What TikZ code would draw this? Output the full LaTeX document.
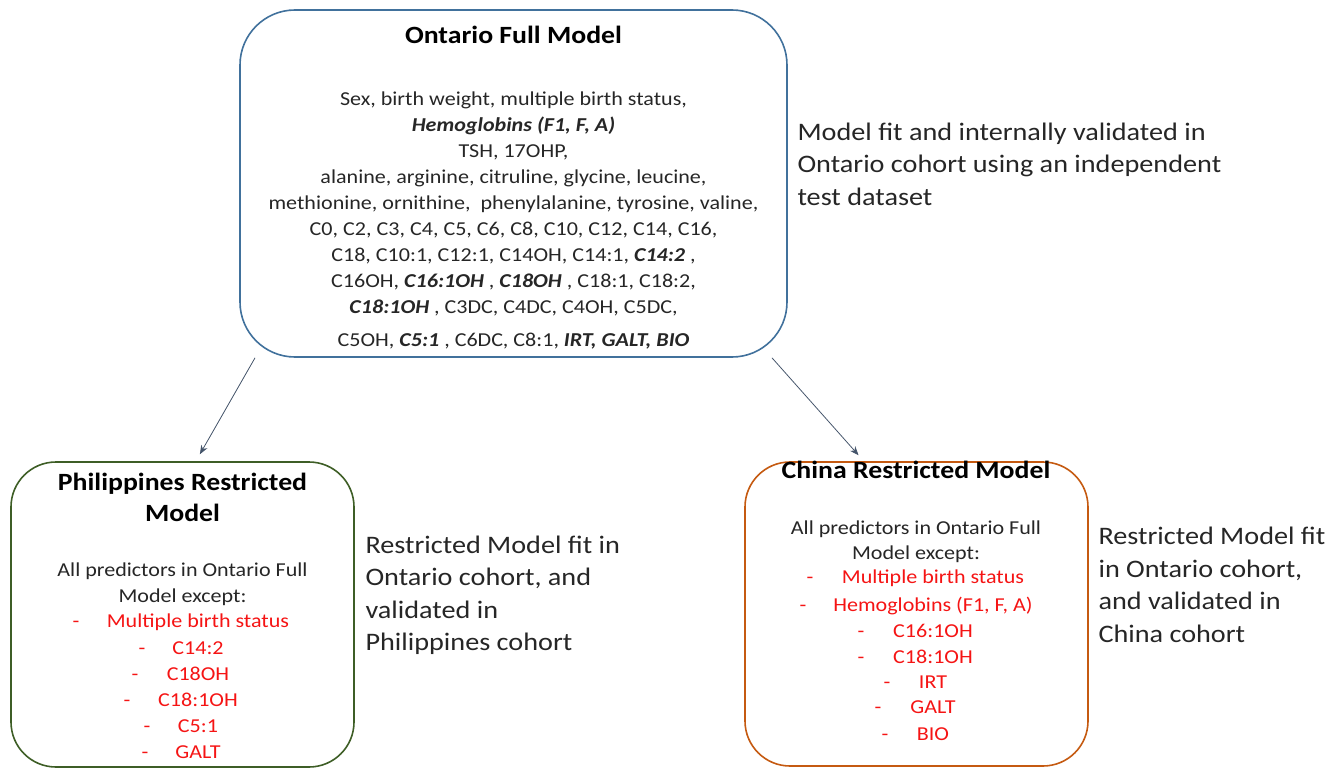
\documentclass[tikz,border=0pt]{standalone}
\usepackage{fontspec}
\setmainfont[FakeStretch=1.12]{Carlito}
\usetikzlibrary{positioning,arrows.meta}

\definecolor{fullblue}{RGB}{65,113,156}
\definecolor{phgreen}{RGB}{62,94,38}
\definecolor{cnorange}{RGB}{197,90,17}
\definecolor{droppedred}{RGB}{245,20,20}
\definecolor{linkgray}{RGB}{68,84,106}
\newcommand{\keyvar}[1]{\textbf{\textit{#1}}}

\begin{document}
\begin{tikzpicture}[x=1pt,y=-1pt,
    model/.style={draw,rounded corners=55pt,line width=1.6pt,inner sep=0pt},
    title/.style={font=\fontsize{24.8}{31}\selectfont\bfseries,align=center},
    body/.style={font=\fontsize{19.7}{26}\selectfont,align=center,text=black!85},
    drop/.style={font=\fontsize{19.7}{26}\selectfont,text=droppedred,text height=2.1ex,text depth=0ex},
    note/.style={font=\fontsize{25.2}{32.5}\selectfont,align=left,anchor=west,text=black!85},
    link/.style={-{Stealth[length=9pt,width=7pt]},linkgray,line width=0.8pt,shorten >=8pt}]
    \useasboundingbox (0,0) rectangle (1339,770);

    % Ontario
    \node[model, fullblue, minimum width=547pt, minimum height=347pt] (full) at (513.5,183.5) {};
    \node[title] (full_title) at (513.5,35) {Ontario Full Model};
    \node[body, below=79pt of full.north] (full_body) {Sex, birth weight, multiple birth status,\\
        \keyvar{Hemoglobins (F1, F, A)}\\
        TSH, 17OHP,\\
        alanine, arginine, citruline, glycine, leucine,\\
        methionine, ornithine,\ \ phenylalanine, tyrosine, valine,\\
        C0, C2, C3, C4, C5, C6, C8, C10, C12, C14, C16,\\
        C18, C10:1, C12:1, C14OH, C14:1, \keyvar{C14:2} ,\\
        C16OH, \keyvar{C16:1OH} , \keyvar{C18OH} , C18:1, C18:2,\\
        \keyvar{C18:1OH} , C3DC, C4DC, C4OH, C5DC,\\[7pt]
        C5OH, \keyvar{C5:1} , C6DC, C8:1, \keyvar{IRT, GALT, BIO}};
    \node[note] (full_note) at (794,164) {Model fit and internally validated in\\
        Ontario cohort using an independent\\test dataset};

    % Philippines
    \node[model, phgreen, rounded corners=45pt, minimum width=343pt, minimum height=305pt] (phil) at (182.5,614.5) {};
    \node[title] (phil_title) at (182.5,497.5) {Philippines Restricted\\Model};
    \node[body] (phil_body) at (182.5,584) {All predictors in Ontario Full\\Model except:};
    \foreach \y/\d/\t in {622/76/Multiple birth status, 649/142/C14:2, 675/135/C18OH,
                          701/127/C18:1OH, 727/147/C5:1, 753/145/GALT}
        \node[drop] at (198,\y) {\t} node[drop] at (\d,\y) {-};
    \node[note] (phil_note) at (362,595.5) {Restricted Model fit in\\Ontario cohort, and\\
        validated in\\Philippines cohort};

    % China
    \node[model, cnorange, rounded corners=45pt, minimum width=343pt, minimum height=304pt] (china) at (916.5,614) {};
    \node[title] (china_title) at (916,470) {China Restricted Model};
    \node[body, font=\fontsize{19.7}{25}\selectfont] (china_body) at (916,541.5) {All predictors in Ontario Full\\Model except:};
    \foreach \y/\d/\t in {578/810/Multiple birth status, 606/803/{Hemoglobins (F1, F, A)},
                          632/861/C16:1OH, 658/861/C18:1OH, 683/887/IRT, 708/878/GALT, 735/885/BIO}
        \node[drop] at (933,\y) {\t} node[drop] at (\d,\y) {-};
    \node[note] (china_note) at (1095,585) {Restricted Model fit\\in Ontario cohort,\\
        and validated in\\China cohort};

    \draw[link] (full.214) -- (phil.85);
    \draw[link] (full.326) -- (china.109);
\end{tikzpicture}
\end{document}
